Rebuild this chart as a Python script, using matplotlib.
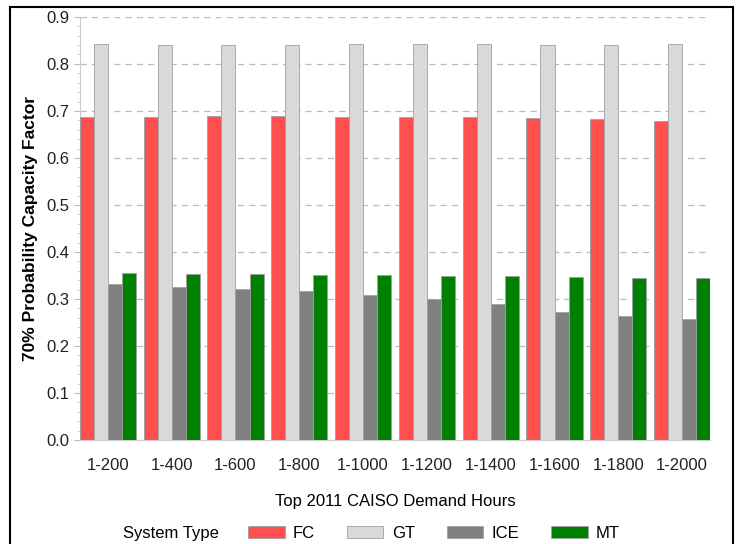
import matplotlib.pyplot as plt
from matplotlib.patches import Rectangle
from matplotlib.ticker import AutoMinorLocator, MultipleLocator, FormatStrFormatter
import numpy as np

plt.rcParams['font.family'] = ['Liberation Sans', 'DejaVu Sans']

# demand-hour windows on the x axis
hours = ["1-200", "1-400", "1-600", "1-800", "1-1000",
         "1-1200", "1-1400", "1-1600", "1-1800", "1-2000"]

# 70% probability capacity factor
fc = [0.688, 0.688, 0.689, 0.689, 0.688, 0.687, 0.686, 0.684, 0.682, 0.678]
gt = [0.842, 0.841, 0.840, 0.841, 0.842, 0.843, 0.842, 0.841, 0.841, 0.842]
ice = [0.331, 0.326, 0.322, 0.317, 0.308, 0.300, 0.289, 0.272, 0.264, 0.257]
mt = [0.356, 0.354, 0.353, 0.352, 0.351, 0.350, 0.348, 0.346, 0.344, 0.344]

series = [("FC", fc, "#ff4f4f"), ("GT", gt, "#d9d9d9"),
          ("ICE", ice, "#808080"), ("MT", mt, "#008000")]

fig = plt.figure(figsize=(7.39, 5.44), dpi=100)
ax = fig.add_axes([0.108, 0.191, 0.853, 0.778])

x = np.arange(len(hours))
w = 0.22
for k, (name, vals, col) in enumerate(series):
    ax.bar(x + (k - 1.5) * w, vals, width=w, color=col, label=name,
           edgecolor="#a0a0a0", linewidth=0.6, zorder=3)

ax.set_xlim(-0.44, len(hours) - 1 + 0.44)
ax.set_ylim(0, 0.9)
ax.yaxis.set_major_locator(MultipleLocator(0.1))
ax.yaxis.set_major_formatter(FormatStrFormatter("%.1f"))
ax.yaxis.set_minor_locator(AutoMinorLocator(5))
ax.set_xticks(x)
ax.set_xticklabels(hours)
ax.tick_params(axis="x", length=0, pad=13, labelsize=12, colors="#222222")
ax.tick_params(axis="y", which="major", length=4, color="#bbbbbb",
               labelsize=12, labelcolor="#222222")
ax.tick_params(axis="y", which="minor", length=2, color="#cccccc")

ax.grid(axis="y", linestyle=(0, (5, 4)), color="#bbbbbb", linewidth=0.9, zorder=0)
for s in ["top", "right"]:
    ax.spines[s].set_visible(False)
ax.spines["left"].set_color("#cccccc")
ax.spines["bottom"].set_color("#cccccc")

ax.set_ylabel("70% Probability Capacity Factor", fontsize=12.5,
              fontweight="bold", labelpad=6)
ax.set_xlabel("Top 2011 CAISO Demand Hours", fontsize=12, labelpad=15)

fig.text(0.166, 0.020, "System Type", ha="left", va="center", fontsize=12)
fig.legend(loc="center left", bbox_to_anchor=(0.3356, 0.020), ncol=4, frameon=False,
           fontsize=12, handlelength=2.2, handleheight=0.72, borderpad=0,
           borderaxespad=0, handletextpad=0.5, columnspacing=1.9)

# outer border around the whole chart
fig.patches.append(Rectangle((0.014, -0.01), 0.978, 0.998, transform=fig.transFigure,
                             fill=False, edgecolor="black", linewidth=1.5))

fig.savefig("out.png", dpi=100)
